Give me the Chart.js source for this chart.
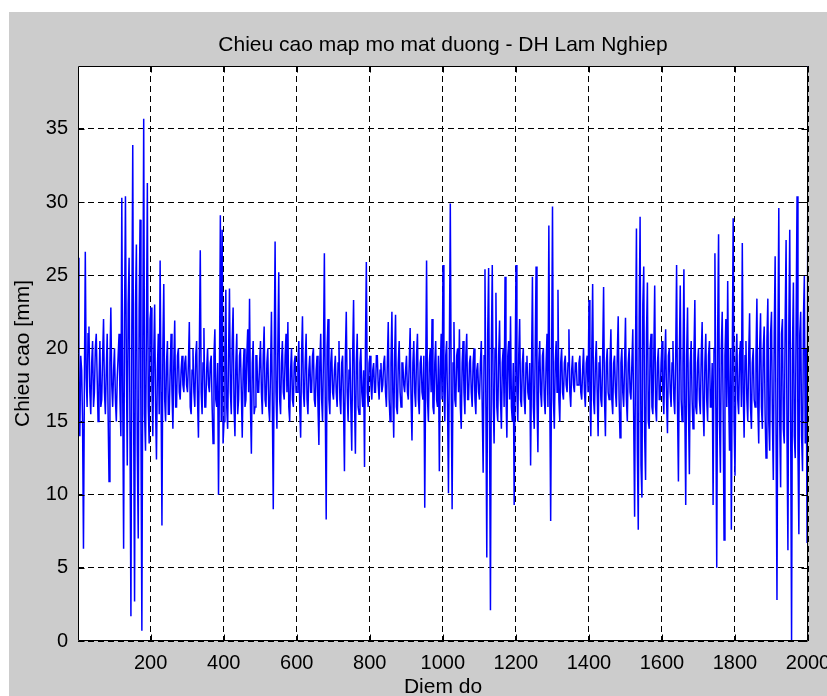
<!DOCTYPE html>
<html>
<head>
<meta charset="utf-8">
<script src="https://cdn.jsdelivr.net/npm/chart.js@4"></script>
<style>
  html, body { margin: 0; padding: 0; background: #fff; }
</style>
</head>
<body>
<canvas id="myChart" width="827" height="696"></canvas>
<script>
// text
const chartTitle = 'Chieu cao map mo mat duong - DH Lam Nghiep';
const xTitle = 'Diem do';
const yTitle = 'Chieu cao [mm]';

// tick labels
const xTicks = [200, 400, 600, 800, 1000, 1200, 1400, 1600, 1800, 2000];
const yTicks = [0, 5, 10, 15, 20, 25, 30, 35];

const heights = [
  26.2, 17, 14, 19.5, 18.5, 15, 6.3, 17.5, 26.6, 18, 16, 21, 21.5, 17, 15.5, 19, 20.5, 16, 17, 20, 21, 18, 15, 17.5, 20.5, 16, 16.5, 19.5, 22, 17, 15.5, 18.5, 21, 15.5, 10.9, 19, 22.8, 17.5, 16, 18.5,
  20, 16.5, 15, 18, 19.5, 21, 16.5, 14, 30.3, 17, 6.3, 22, 30.4, 19, 12, 23, 26.2, 14, 1.7, 21.5, 33.9, 15, 2.7, 23, 27.1, 13, 7.0, 22.5, 28.8, 14.5, 0.7, 20, 35.7, 15.5, 13, 21, 31.3, 16, 13.5, 22,
  22.8, 17.5, 14, 19.5, 23, 16, 12.4, 18.5, 21, 15.5, 26, 17, 7.9, 20, 24.4, 16.5, 15, 19, 20.5, 15.5, 15.5, 18.5, 21, 17, 14.5, 19, 21.9, 16, 16, 19.5, 20, 17, 16.5, 18.5, 19.5, 17.5, 17, 19, 19.5, 17.5,
  17, 19, 21.8, 16, 15.5, 18.5, 20, 17, 16, 19.5, 20.5, 16.5, 13.9, 20, 26.7, 17, 15.5, 19, 21.4, 16, 16, 18.5, 20, 17.5, 17, 19, 19.5, 16, 13.5, 19.5, 21.3, 16.5, 16, 19, 10, 18, 29.1, 15, 28.1, 13.5,
  15, 20, 24, 16, 14.5, 19.5, 24.1, 17, 15.5, 20.5, 22.8, 16, 14, 19, 21, 15.5, 16.5, 19.5, 20, 17, 13.9, 18.5, 20, 16, 16.5, 19.5, 21.3, 17, 23.4, 16, 12.8, 19, 20.5, 15.5, 16, 19.5, 19.5, 17, 17, 19,
  20.5, 17, 15.5, 19.5, 21.5, 16.5, 16, 19, 20, 16, 15, 18.5, 22.5, 16, 9.0, 19.5, 27.3, 17, 14.5, 20, 25.2, 16.5, 15.5, 19, 20.5, 17, 16.5, 19.5, 21, 17, 21.8, 16, 15, 18.5, 20, 16.5, 16, 19, 19.5, 17,
  17, 19, 20.5, 16, 13.9, 19.5, 22.2, 17, 16, 19, 21, 16.5, 15.5, 18.5, 19.5, 17, 17, 19.5, 20, 16.5, 16, 18.5, 19.5, 16, 13.4, 19, 21, 16.5, 15, 19.5, 26.5, 16, 8.3, 20, 22, 16.5, 15.5, 19, 20, 17,
  16.5, 18.5, 19.5, 17, 16, 19, 20.5, 16.5, 15.5, 19, 19.5, 16, 11.6, 19.5, 22.5, 17, 15, 18.5, 20, 16, 13, 19.5, 23.3, 16.5, 12.8, 19, 21, 16, 15.5, 19, 20, 17, 16, 18.5, 11.9, 20, 25.9, 17, 16, 19,
  19.5, 17.5, 16.5, 18.5, 19, 17, 17, 19.5, 19.5, 17.5, 16.5, 18.5, 19, 17, 17.5, 19, 19.5, 17, 16, 19, 21.8, 16.5, 15, 19, 22.5, 17, 13.9, 19.5, 22.3, 16, 15.5, 19, 20.5, 17, 16, 19, 19, 17.5, 17, 18.5,
  19.5, 17, 16.5, 19, 21.4, 16.5, 13.7, 19, 20.5, 17, 16, 19.5, 21, 16.5, 15.5, 19, 19.5, 17, 16.5, 19.5, 9.1, 18, 26, 16.5, 15, 19, 20, 17, 22, 16, 15.5, 19, 20.5, 16.5, 16, 19.5, 11.6, 18.5, 21, 16.5,
  25.7, 17, 15, 19.5, 20.5, 16, 10.1, 20, 29.9, 17, 9.0, 19, 21.8, 16.5, 16, 19.5, 20, 17, 21.3, 16, 14.5, 19, 20.5, 17, 15.5, 19.5, 21, 16.5, 16.5, 19, 19.5, 17, 16, 19, 20, 16.5, 15.5, 18.5, 19, 17,
  16.5, 19, 20.5, 16, 11.5, 19.5, 25.4, 16, 5.7, 21, 25.5, 15, 2.1, 20, 25.7, 16.5, 13.5, 20, 23.8, 16, 15, 19.5, 21.9, 16.5, 14.5, 19, 20, 16, 24.9, 17, 13.9, 19.5, 20.5, 16.5, 22.2, 16, 15, 19, 9.3, 18,
  25.7, 17, 15, 19.5, 22, 16.5, 16, 19, 20, 16.5, 15.5, 19, 19.5, 17, 16.5, 19, 12, 18.5, 24.9, 16, 14.5, 19.5, 25.6, 16.5, 12.9, 19, 20.5, 17, 16, 19.5, 20, 16.5, 15.5, 19, 21, 16, 28.4, 17, 8.2, 19,
  29.7, 16.5, 14.5, 19, 20.5, 17, 24, 16.5, 15, 19, 20, 17, 16.5, 19, 19.5, 17.5, 17, 19, 21.3, 17, 16, 18.5, 19.5, 17.5, 17, 19, 19, 17.5, 17.5, 19, 19.5, 17, 16.5, 18.5, 20, 17, 16, 19, 19.5, 17,
  23.3, 17, 14, 19.5, 24.4, 16.5, 15.5, 19, 20.5, 17, 14, 19, 19.5, 16.5, 16, 19.5, 24.2, 16.5, 14, 19, 20, 17, 16.5, 19, 21.3, 16.5, 15.5, 19, 19.5, 17, 16, 19.5, 22.2, 16.5, 13.9, 19, 20, 17, 16, 19,
  22.1, 16.5, 15, 19, 20, 17, 16.5, 19, 21.3, 15, 8.5, 20, 28.2, 13, 7.6, 22, 29.0, 12, 9.8, 23, 25.6, 14, 11, 21, 24.5, 15, 14.5, 20, 21, 16, 15.5, 19.5, 24.3, 16, 15, 19, 20, 16.5, 16.5, 19,
  20.5, 17, 15.5, 19, 21.3, 16.5, 14.2, 19.5, 20, 17, 16, 19, 20.5, 16.5, 15.5, 19.5, 25.7, 16, 10.9, 19.5, 24.3, 16.5, 15, 19, 25.4, 16, 9.3, 19.5, 22.8, 16, 11.4, 19, 20.5, 16.5, 14.5, 19.5, 23.3, 16, 15.5, 19,
  20, 16.5, 15.5, 19.5, 21.8, 16, 14, 19, 21, 16.5, 15, 19.5, 20.5, 16, 16, 19, 9.3, 20, 26.5, 16, 5.0, 21, 27.8, 15, 11.5, 20, 22.5, 16, 6.9, 19.5, 22, 16, 24.6, 17, 13, 20, 7.6, 19, 28.9, 15,
  11.3, 19, 21, 16.5, 15.5, 19.5, 20.5, 16, 27.2, 17, 13.9, 19.5, 20.5, 16.5, 15, 19.5, 22.4, 16, 14.5, 19, 20, 16.5, 16, 19.5, 23.4, 16, 13.5, 20, 22.4, 16, 14.5, 20, 21.5, 15.5, 12.5, 20.5, 23.4, 15, 13, 21,
  22.5, 15, 11, 21, 26.3, 14, 2.8, 20, 29.6, 15, 10.5, 21, 22, 14.5, 13.5, 22, 27.4, 14, 6.2, 21.5, 28.1, 15, 0, 20, 24.5, 14, 12.5, 22, 30.4, 13, 7.3, 21, 22.5, 14, 11.6, 22, 25, 13.5, 20, 6.7,
  39.3
];

// point number of each sample, 1 .. 2000
const pointNo = heights.map((v, i) => 1 + i * 1999 / (heights.length - 1));

const fontFamily = '"Liberation Sans", Arial, sans-serif';

// gray figure + white axes, like matlab
const background = {
  id: 'background',
  beforeDraw(chart) {
    const ctx = chart.ctx;
    const a = chart.chartArea;
    ctx.save();
    ctx.fillStyle = '#ffffff';
    ctx.fillRect(0, 0, chart.width, chart.height);
    ctx.fillStyle = '#cccccc';
    ctx.fillRect(9, 12, chart.width - 9, chart.height - 12);
    ctx.fillStyle = '#ffffff';
    ctx.fillRect(a.left, a.top, a.right - a.left, a.bottom - a.top);
    ctx.restore();
  }
};

// box, inner ticks and title
const axesBox = {
  id: 'axesBox',
  afterDraw(chart) {
    const ctx = chart.ctx;
    const a = chart.chartArea;
    const xs = chart.scales.x;
    const ys = chart.scales.y;
    const L = Math.round(a.left) + 0.5, R = Math.round(a.right) - 0.5;
    const T = Math.round(a.top) + 0.5, B = Math.round(a.bottom) - 0.5;
    ctx.save();
    ctx.strokeStyle = '#000';
    ctx.lineWidth = 1;
    ctx.beginPath();
    ctx.rect(L, T, R - L, B - T);
    xTicks.forEach(v => {
      const px = Math.round(xs.getPixelForValue(v)) + 0.5;
      ctx.moveTo(px, B); ctx.lineTo(px, B - 6);
      ctx.moveTo(px, T); ctx.lineTo(px, T + 6);
    });
    yTicks.forEach(v => {
      const py = Math.round(ys.getPixelForValue(v)) + 0.5;
      ctx.moveTo(L, py); ctx.lineTo(L + 6, py);
      ctx.moveTo(R, py); ctx.lineTo(R - 6, py);
    });
    ctx.stroke();

    ctx.fillStyle = '#000';
    ctx.font = '21px ' + fontFamily;
    ctx.textAlign = 'center';
    ctx.textBaseline = 'alphabetic';
    ctx.fillText(chartTitle, (a.left + a.right) / 2, 51);
    ctx.restore();
  }
};

const ctx = document.getElementById('myChart').getContext('2d');
const myChart = new Chart(ctx, {
  type: 'line',
  data: {
    datasets: [{
      data: heights.map((v, i) => ({x: pointNo[i], y: v})),
      borderColor: '#0000ff',
      borderWidth: 1.5,
      pointRadius: 0,
      tension: 0,
      fill: false
    }]
  },
  options: {
    responsive: false,
    animation: false,
    layout: {padding: {top: 66, right: 19, left: 0, bottom: 0}},
    plugins: {
      legend: {display: false},
      tooltip: {enabled: false},
      title: {display: false}
    },
    scales: {
      x: {
        type: 'linear',
        min: 1,
        max: 2000,
        afterBuildTicks: s => { s.ticks = xTicks.map(v => ({value: v})); },
        afterFit: s => { s.height = 55; s.paddingLeft = 0; s.paddingRight = 0; },
        grid: {color: '#000', lineWidth: 1, drawTicks: false},
        border: {display: false, dash: [6, 4]},
        ticks: {
          color: '#000', padding: 10, maxRotation: 0, autoSkip: false,
          font: {family: fontFamily, size: 20},
          callback: v => String(v)
        },
        title: {
          display: true, text: xTitle, color: '#000', padding: 0,
          font: {family: fontFamily, size: 21, lineHeight: 0.8}
        }
      },
      y: {
        min: 0,
        max: Math.max(...heights),
        afterBuildTicks: s => { s.ticks = yTicks.map(v => ({value: v})); },
        afterFit: s => { s.width = 78; s.paddingTop = 0; s.paddingBottom = 0; },
        grid: {color: '#000', lineWidth: 1, drawTicks: false},
        border: {display: false, dash: [6, 4]},
        ticks: {
          color: '#000', padding: 10, autoSkip: false,
          font: {family: fontFamily, size: 20},
          callback: v => String(v)
        },
        title: {
          display: true, text: yTitle, color: '#000', padding: {top: 11, bottom: 0},
          font: {family: fontFamily, size: 21, lineHeight: 1.2}
        }
      }
    }
  },
  plugins: [background, axesBox]
});
</script>
</body>
</html>
